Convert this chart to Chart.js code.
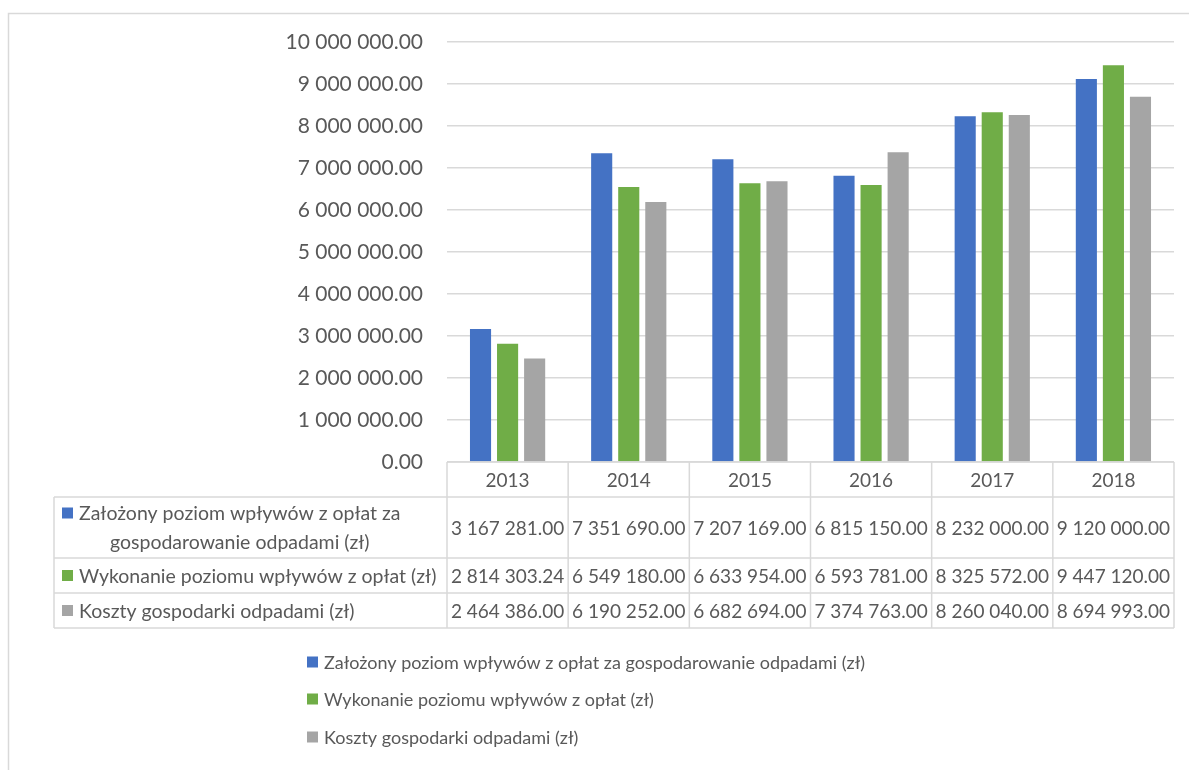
<!DOCTYPE html>
<html>
<head>
<meta charset="utf-8">
<script src="https://cdn.jsdelivr.net/npm/chart.js@4/dist/chart.umd.min.js"></script>
<style>
  html, body { margin: 0; padding: 0; background: #fff; }
  #wrap { width: 1189px; height: 770px; position: relative; }
</style>
</head>
<body>
<div id="wrap"><canvas id="chart" width="1189" height="770"></canvas></div>
<script>
// ============================
// Data
// ============================
const years = ["2013", "2014", "2015", "2016", "2017", "2018"];
const planned = [3167281.00, 7351690.00, 7207169.00, 6815150.00, 8232000.00, 9120000.00];
const executed = [2814303.24, 6549180.00, 6633954.00, 6593781.00, 8325572.00, 9447120.00];
const costs = [2464386.00, 6190252.00, 6682694.00, 7374763.00, 8260040.00, 8694993.00];
const seriesNames = [
    "Założony poziom wpływów z opłat za gospodarowanie odpadami (zł)",
    "Wykonanie poziomu wpływów z opłat (zł)",
    "Koszty gospodarki odpadami (zł)"
];
// same names as wrapped in the data table
const tableLabelLines = [
    ["Założony poziom wpływów z opłat za", "gospodarowanie odpadami (zł)"],
    ["Wykonanie poziomu wpływów z opłat (zł)"],
    ["Koszty gospodarki odpadami (zł)"]
];
const yTicks = { min: 0, max: 10000000, step: 1000000 };

const colors = ["#4472C4", "#70AD47", "#A5A5A5"];
const TEXT = "#595959", LINE = "#D9D9D9", FONT = "Lato";

function fmt(v) {
    const [i, d] = v.toFixed(2).split(".");
    return i.replace(/\B(?=(\d{3})+(?!\d))/g, " ") + "." + d;
}

// ============================
// Data table + legend + frame
// ============================
const tablePlugin = {
    id: "dataTable",
    beforeDraw(chart) {
        const ctx = chart.ctx;
        ctx.save();
        ctx.strokeStyle = LINE; ctx.lineWidth = 1.5;
        ctx.beginPath();
        ctx.moveTo(8.5, 770); ctx.lineTo(8.5, 13.5); ctx.lineTo(1189, 13.5);
        ctx.stroke();
        ctx.restore();
    },
    afterDraw(chart) {
        const ctx = chart.ctx, x = chart.scales.x, area = chart.chartArea;
        const colW = (area.right - area.left) / years.length;
        const top = area.bottom, headB = top + 35;
        const rowB = [headB + 61, headB + 96, headB + 131];
        const labelL = 54;
        const series = chart.data.datasets;

        ctx.save();
        ctx.strokeStyle = LINE; ctx.lineWidth = 1.5;
        ctx.beginPath();
        // horizontal lines
        ctx.moveTo(area.left, top); ctx.lineTo(area.right, top);
        [headB, ...rowB].forEach(y => { ctx.moveTo(labelL, y); ctx.lineTo(area.right, y); });
        // verticals
        ctx.moveTo(labelL, headB); ctx.lineTo(labelL, rowB[2]);
        for (let i = 0; i <= years.length; i++) {
            const xx = area.left + i * colW;
            ctx.moveTo(xx, top); ctx.lineTo(xx, rowB[2]);
        }
        ctx.stroke();

        ctx.fillStyle = TEXT;
        ctx.font = `19px ${FONT}`;
        ctx.textBaseline = "middle";
        ctx.textAlign = "center";
        years.forEach((yr, i) => ctx.fillText(yr, x.getPixelForValue(i), (top + headB) / 2 + 1));

        const rowTops = [headB, rowB[0], rowB[1]];
        series.forEach((ds, r) => {
            const cy = (rowTops[r] + rowB[r]) / 2 + 1;
            ctx.font = `19px ${FONT}`;
            ctx.textAlign = "center";
            ds.data.forEach((v, i) => ctx.fillText(fmt(v), x.getPixelForValue(i), cy));

            // row label with swatch, wrapped lines centred under the first
            ctx.font = `19.5px ${FONT}`;
            const lines = tableLabelLines[r];
            const sw = 11, tx = 79;
            const firstW = ctx.measureText(lines[0]).width;
            const lh = 29;
            const y0 = cy - (lines.length - 1) * lh / 2;
            ctx.fillStyle = colors[r];
            ctx.fillRect(62, y0 - sw / 2 - 1, sw, sw);
            ctx.fillStyle = TEXT;
            ctx.textAlign = "left";
            ctx.fillText(lines[0], tx, y0);
            ctx.textAlign = "center";
            for (let k = 1; k < lines.length; k++) ctx.fillText(lines[k], tx + firstW / 2, y0 + k * lh);
        });

        // legend
        ctx.font = `18px ${FONT}`;
        const legY = [663, 700, 738];
        const lx = 307;
        series.forEach((ds, r) => {
            ctx.fillStyle = colors[r];
            ctx.fillRect(lx, legY[r] - 6.5, 11, 11);
            ctx.fillStyle = TEXT;
            ctx.textAlign = "left";
            ctx.fillText(ds.label, lx + 17, legY[r]);
        });
        ctx.restore();
    }
};

new Chart(document.getElementById("chart"), {
    type: "bar",
    data: {
        labels: years,
        datasets: [planned, executed, costs].map((d, i) => ({
            label: seriesNames[i],
            data: d,
            backgroundColor: colors[i],
            borderWidth: 0,
            categoryPercentage: 0.67,
            barPercentage: 0.78
        }))
    },
    options: {
        responsive: false,
        animation: false,
        layout: { padding: { left: 0, right: 15, top: 42, bottom: 308 } },
        plugins: { legend: { display: false }, tooltip: { enabled: false } },
        scales: {
            x: { display: false },
            y: {
                min: yTicks.min, max: yTicks.max,
                border: { display: false },
                grid: { color: LINE, lineWidth: 1.5, drawTicks: false },
                ticks: {
                    stepSize: yTicks.step, padding: 24, color: TEXT,
                    font: { family: FONT, size: 21 },
                    callback: v => fmt(v)
                },
                afterFit: s => { s.width = 447; }
            }
        }
    },
    plugins: [tablePlugin]
});
</script>
</body>
</html>
